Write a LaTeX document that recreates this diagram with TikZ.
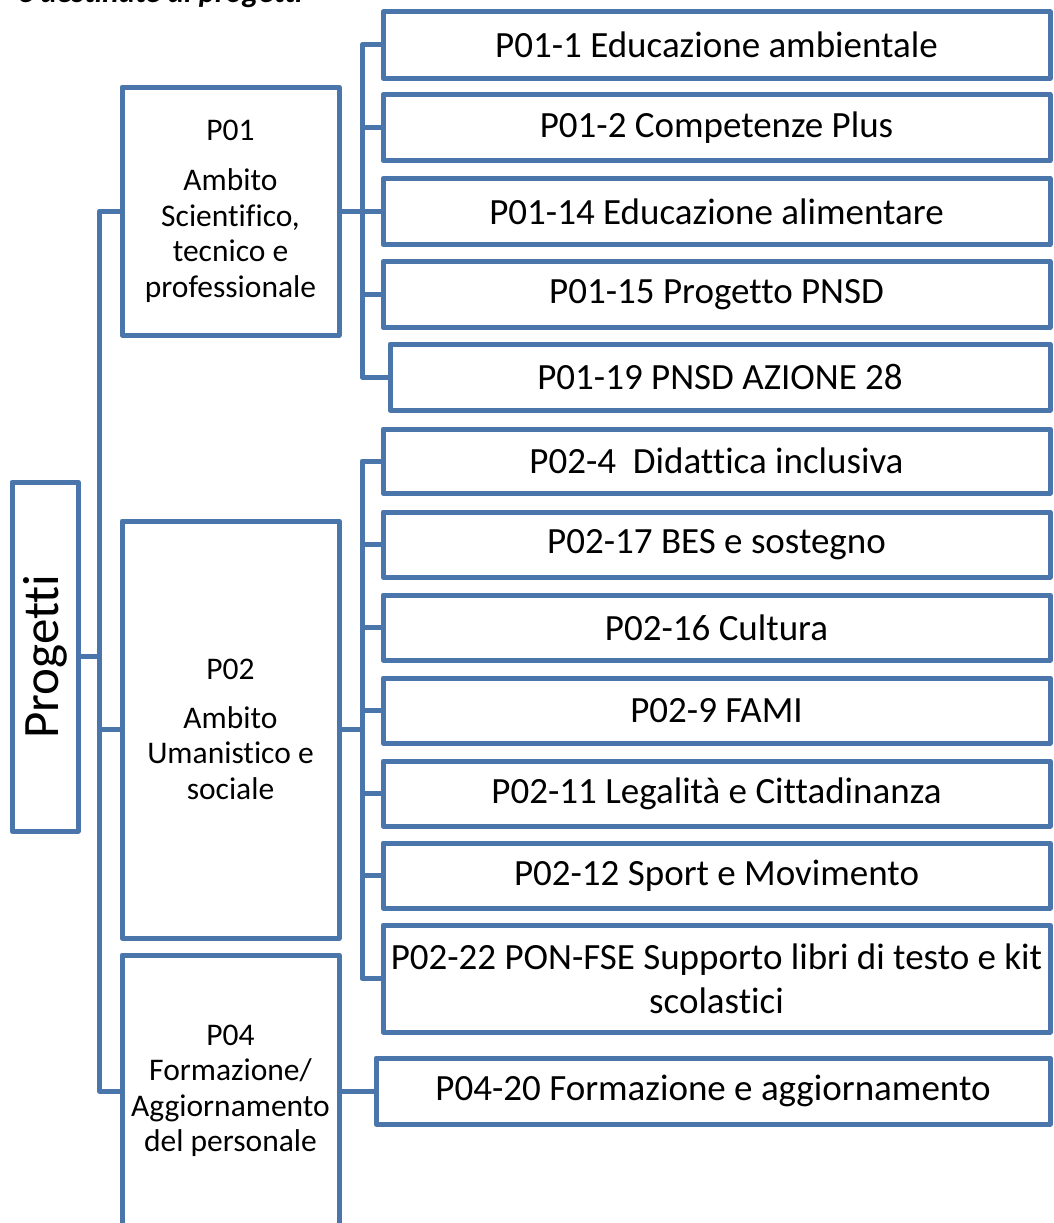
\documentclass[tikz,border=0pt]{standalone}
\usepackage{fontspec}
\setmainfont{Carlito}[Ligatures=NoCommon]
\definecolor{blu}{RGB}{74,118,172}
\begin{document}
\begin{tikzpicture}[x=1pt,y=-1pt,
  box/.style={draw=blu,line width=5pt,line join=round,inner sep=0pt,align=center,text=black},
  sub/.style={box,minimum width=667pt,minimum height=66pt,font=\fontsize{37}{44}\selectfont},
  amb/.style={box,minimum width=217pt,font=\fontsize{31.5}{35.5}\selectfont},
  conn/.style={draw=blu,line width=5pt,line join=round}]
\useasboundingbox (0,0) rectangle (1054,1223);
% title (cut off at the top, as in the reference)
\node[font=\fontsize{31}{36}\selectfont\bfseries\itshape,anchor=base east,inner sep=0pt] (title) at (303,2.5) {e destinate ai progetti};
% root
\node[box,minimum width=66pt,minimum height=349pt,font=\fontsize{51}{60}\selectfont] (prog) at (45,656.5) {\rotatebox{90}{Progetti}};
% areas
\node[amb,minimum height=248pt] (p01) at (230.5,211) {P01\\[15pt]Ambito\\Scientifico,\\tecnico e\\professionale};
\node[amb,minimum height=417pt] (p02) at (230.5,729.5) {P02\\[13pt]Ambito\\Umanistico e\\sociale};
\node[amb,minimum height=272pt] (p04) at (230.5,1091) {P04\\Formazione/\\Aggiornamento\\del personale};
% projects P01
\node[sub] (a1) at (716.5,45) {P01-1 Educazione ambientale};
\node[sub] (a2) at (716.5,127.5) {P01-2 Competenze Plus};
\node[sub] (a3) at (716.5,211.5) {P01-14 Educazione alimentare};
\node[sub] (a4) at (716.5,294.5) {P01-15 Progetto PNSD};
\node[sub,minimum width=660pt] (a5) at (720,377) {P01-19 PNSD AZIONE 28};
% projects P02
\node[sub,minimum height=64pt] (b1) at (716.5,461) {P02-4~~Didattica inclusiva};
\node[sub,minimum height=65pt] (b2) at (716.5,544.5) {P02-17 BES e sostegno};
\node[sub,minimum height=65pt] (b3) at (716.5,627.5) {P02-16 Cultura};
\node[sub,minimum height=65pt] (b4) at (716.5,710.5) {P02-9 FAMI};
\node[sub,minimum height=65pt] (b5) at (716.5,793.5) {P02-11 Legalità e Cittadinanza};
\node[sub,minimum height=65pt] (b6) at (716.5,875.5) {P02-12 Sport e Movimento};
\node[sub,minimum height=107pt] (b7) at (716.5,978.5) {P02-22 PON-FSE Supporto libri di testo e kit\\scolastici};
% project P04
\node[sub,minimum width=674pt] (c1) at (713,1091) {P04-20 Formazione e aggiornamento};
% buses
\coordinate (trunk) at (99.5,0);
\coordinate (busA) at (362,0);
\coordinate (busB) at (362,0);
% trunk
\draw[conn] (p01.west) -| (trunk |- p04.west) -- (p04.west);
\draw[conn] (prog.east) -- (prog.east -| trunk);
\draw[conn] (p02.west) -- (p02.west -| trunk);
% P01 bus
\draw[conn] (a1.west) -| (busA |- a5.west) -- (a5.west);
\draw[conn] (p01.east) -- (p01.east -| busA);
\draw[conn] (a2.west) -- (a2.west -| busA);
\draw[conn] (a3.west) -- (a3.west -| busA);
\draw[conn] (a4.west) -- (a4.west -| busA);
% P02 bus
\draw[conn] (b1.west) -| (busB |- b7.west) -- (b7.west);
\draw[conn] (p02.east) -- (p02.east -| busB);
\draw[conn] (b2.west) -- (b2.west -| busB);
\draw[conn] (b3.west) -- (b3.west -| busB);
\draw[conn] (b4.west) -- (b4.west -| busB);
\draw[conn] (b5.west) -- (b5.west -| busB);
\draw[conn] (b6.west) -- (b6.west -| busB);
% P04
\draw[conn] (p04.east) -- (c1.west);
\end{tikzpicture}
\end{document}
